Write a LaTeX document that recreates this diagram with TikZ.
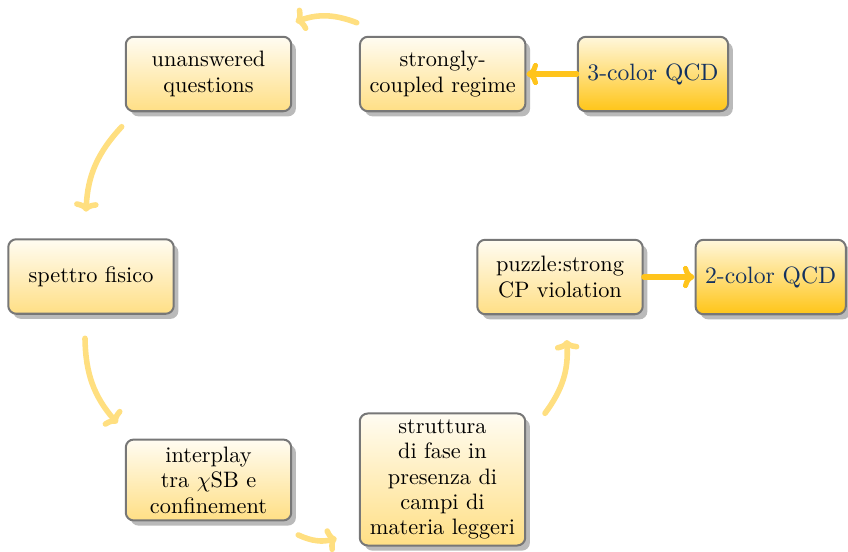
\documentclass[tikz,border=0pt]{standalone}
\usetikzlibrary{arrows.meta,shadows}
\definecolor{cyclelow}{HTML}{FFDF85}
\definecolor{cycletop}{HTML}{FFFCF2}
\definecolor{qcdlow}{HTML}{FFC517}
\definecolor{qcdtop}{HTML}{FFF7DC}
\definecolor{rimgray}{HTML}{777777}
\definecolor{shadowgray}{HTML}{BABABA}
\definecolor{cyclearc}{HTML}{FFDF80}
\definecolor{qcdarc}{HTML}{FFC41C}
\definecolor{qcdtext}{HTML}{13315F}
\begin{document}
\begin{tikzpicture}[x=0.4484pt, y=-0.4484pt,
  box/.style={draw=rimgray, line width=0.9pt, rounded corners=3.6pt, align=center,
    inner sep=0pt,
    drop shadow={shadow xshift=2.1pt, shadow yshift=-2.3pt, fill=shadowgray, opacity=1}},
  topic/.style={box, top color=cycletop, bottom color=cyclelow,
    minimum width=74.2pt, minimum height=33.4pt,
    font=\fontsize{10}{11.4}\selectfont},
  model/.style={box, top color=qcdtop, bottom color=qcdlow, text=qcdtext,
    minimum width=67.4pt, minimum height=33.4pt,
    font=\fontsize{10.6}{12.7}\selectfont},
  cyclearrow/.style={draw=cyclearc, line width=2.5pt, line cap=round,
    -{Computer Modern Rightarrow[length=4.5pt, width=11pt]}},
  feed/.style={draw=qcdarc, line width=2.3pt, line cap=round,
    -{Computer Modern Rightarrow[length=5.2pt, width=10pt]}},
]
\useasboundingbox (0,0) rectangle (848,552);

% the six stages around the circle
\node[topic] (sc) at (442.7,74)    {strongly-\\coupled regime};
\node[topic] (uq) at (208.5,74)    {unanswered\\questions};
\node[topic] (sf) at (91,276.5)    {spettro fisico};
\node[topic, minimum height=36.3pt] (ip) at (208.5,480) {interplay\\tra $\chi$SB e\\confinement};
\node[topic, minimum height=59.2pt] (sd) at (442.5,479.5) {struttura\\di fase in\\presenza di\\campi di\\materia leggeri};
\node[topic] (pz) at (560,277)     {puzzle:strong\\CP violation};

% the two models feeding in
\node[model] (q3) at (653,74)      {3-color QCD};
\node[model] (q2) at (770.7,277)   {2-color QCD};

% ends of the curved arrows between stages
\coordinate (a1s) at (356.7,22.7);  \coordinate (a1e) at (295.7,21.7);
\coordinate (a2s) at (121.7,126.7); \coordinate (a2e) at (86,211.7);
\coordinate (a3s) at (85,338.3);    \coordinate (a3e) at (117.3,423.3);
\coordinate (a4s) at (298.3,535);   \coordinate (a4e) at (336.7,538.3);
\coordinate (a5s) at (545,413.3);   \coordinate (a5e) at (566.7,340);

\draw[cyclearrow] (a1s) to[bend right=20] (a1e);
\draw[cyclearrow] (a2s) to[bend right=20] (a2e);
\draw[cyclearrow] (a3s) to[bend right=20] (a3e);
\draw[cyclearrow] (a4s) to[bend right=20] (a4e);
\draw[cyclearrow] (a5s) to[bend right=20] (a5e);

\draw[feed] (q3) -- (sc);
\draw[feed] (pz) -- (q2);
\end{tikzpicture}
\end{document}
